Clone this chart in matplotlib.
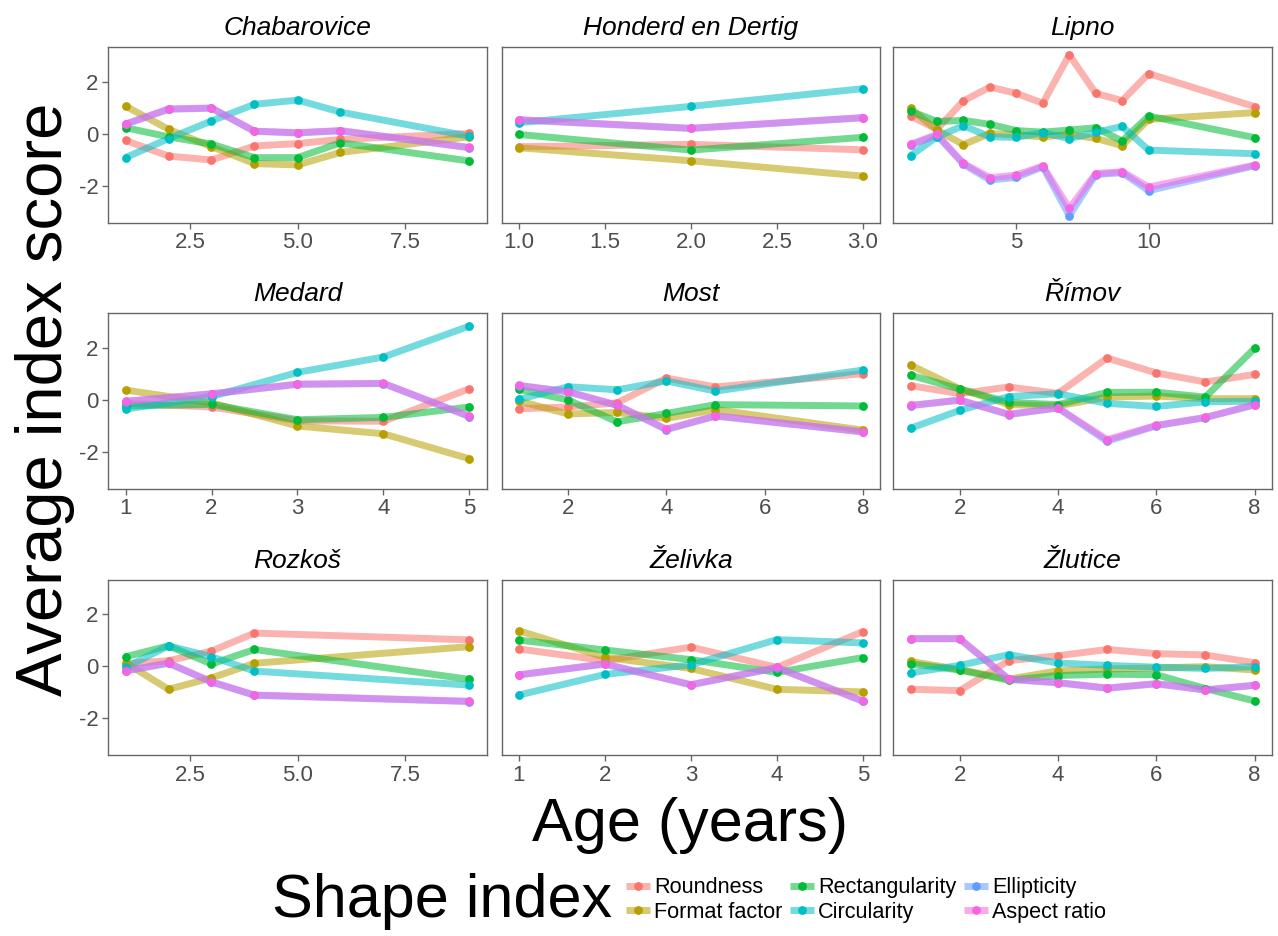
import matplotlib
matplotlib.use("Agg")
import matplotlib.pyplot as plt
from matplotlib.lines import Line2D

plt.rcParams['font.family'] = ['Liberation Sans', 'DejaVu Sans']

# ---------------- data ----------------
lakes = ["Chabarovice", "Honderd en Dertig", "Lipno",
         "Medard", "Most", "Římov",
         "Rozkoš", "Želivka", "Žlutice"]
indices = ["Roundness", "Format factor", "Rectangularity",
           "Circularity", "Ellipticity", "Aspect ratio"]
colors = ["#F8766D", "#B79F00", "#00BA38", "#00BFC4", "#619CFF", "#F564E3"]

ages = {
    "Chabarovice": [1, 2, 3, 4, 5, 6, 9],
    "Honderd en Dertig": [1, 2, 3],
    "Lipno": [1, 2, 3, 4, 5, 6, 7, 8, 9, 10, 14],
    "Medard": [1, 2, 3, 4, 5],
    "Most": [1, 2, 3, 4, 5, 8],
    "Římov": [1, 2, 3, 4, 5, 6, 7, 8],
    "Rozkoš": [1, 2, 3, 4, 9],
    "Želivka": [1, 2, 3, 4, 5],
    "Žlutice": [1, 2, 3, 4, 5, 6, 7, 8],
}

chabarovice = {
    "Roundness":      [-0.26, -0.86, -1.01, -0.47, -0.38, -0.22, 0.01],
    "Format factor":  [1.06, 0.17, -0.50, -1.15, -1.20, -0.72, -0.12],
    "Rectangularity": [0.23, -0.12, -0.40, -0.92, -0.92, -0.35, -1.05],
    "Circularity":    [-0.92, -0.19, 0.49, 1.13, 1.29, 0.83, -0.10],
    "Ellipticity":    [0.36, 0.94, 0.98, 0.09, 0.03, 0.11, -0.54],
    "Aspect ratio":   [0.37, 0.95, 0.99, 0.10, 0.04, 0.12, -0.53],
}
honderd = {
    "Roundness":      [-0.50, -0.41, -0.62],
    "Format factor":  [-0.54, -1.04, -1.63],
    "Rectangularity": [-0.03, -0.63, -0.14],
    "Circularity":    [0.42, 1.05, 1.73],
    "Ellipticity":    [0.53, 0.20, 0.61],
    "Aspect ratio":   [0.54, 0.21, 0.62],
}
lipno = {
    "Roundness":      [0.68, 0.17, 1.26, 1.79, 1.55, 1.17, 3.03, 1.55, 1.27, 2.31, 1.04],
    "Format factor":  [0.97, 0.14, -0.42, 0.01, -0.05, -0.12, -0.03, -0.18, -0.46, 0.55, 0.81],
    "Rectangularity": [0.87, 0.47, 0.51, 0.36, 0.12, 0.06, 0.14, 0.23, -0.28, 0.68, -0.15],
    "Circularity":    [-0.85, -0.12, 0.31, -0.12, -0.14, 0.04, -0.19, 0.05, 0.28, -0.63, -0.77],
    "Ellipticity":    [-0.44, -0.06, -1.17, -1.78, -1.68, -1.27, -3.15, -1.57, -1.50, -2.19, -1.23],
    "Aspect ratio":   [-0.41, -0.03, -1.14, -1.69, -1.59, -1.24, -2.87, -1.53, -1.46, -2.05, -1.21],
}
medard = {
    "Roundness":      [-0.14, -0.28, -0.81, -0.83, 0.42],
    "Format factor":  [0.37, -0.12, -1.01, -1.31, -2.27],
    "Rectangularity": [-0.24, -0.18, -0.77, -0.68, -0.28],
    "Circularity":    [-0.36, 0.12, 1.05, 1.64, 2.83],
    "Ellipticity":    [-0.07, 0.22, 0.59, 0.62, -0.65],
    "Aspect ratio":   [-0.06, 0.23, 0.60, 0.63, -0.64],
}
most = {
    "Roundness":      [-0.35, -0.28, -0.12, 0.83, 0.49, 1.00],
    "Format factor":  [-0.05, -0.55, -0.49, -0.72, -0.38, -1.17],
    "Rectangularity": [0.40, -0.01, -0.85, -0.53, -0.19, -0.24],
    "Circularity":    [0.01, 0.50, 0.38, 0.72, 0.33, 1.14],
    "Ellipticity":    [0.54, 0.30, -0.22, -1.15, -0.63, -1.24],
    "Aspect ratio":   [0.55, 0.31, -0.21, -1.13, -0.62, -1.23],
}
rimov = {
    "Roundness":      [0.54, 0.23, 0.49, 0.24, 1.60, 1.03, 0.68, 0.97],
    "Format factor":  [1.33, 0.42, -0.19, -0.24, 0.10, 0.14, 0.04, 0.04],
    "Rectangularity": [0.94, 0.41, -0.10, -0.19, 0.28, 0.29, 0.10, 1.97],
    "Circularity":    [-1.10, -0.41, 0.12, 0.23, -0.14, -0.26, -0.08, -0.06],
    "Ellipticity":    [-0.23, -0.02, -0.57, -0.32, -1.60, -1.00, -0.69, -0.20],
    "Aspect ratio":   [-0.22, -0.01, -0.56, -0.31, -1.53, -0.99, -0.68, -0.19],
}
rozkos = {
    "Roundness":      [0.10, 0.22, 0.59, 1.28, 1.02],
    "Format factor":  [0.14, -0.88, -0.44, 0.12, 0.76],
    "Rectangularity": [0.37, 0.79, 0.09, 0.65, -0.50],
    "Circularity":    [-0.04, 0.79, 0.37, -0.18, -0.72],
    "Ellipticity":    [-0.18, 0.12, -0.60, -1.11, -1.35],
    "Aspect ratio":   [-0.17, 0.13, -0.59, -1.10, -1.34],
}
zelivka = {
    "Roundness":      [0.67, 0.22, 0.74, -0.04, 1.34],
    "Format factor":  [1.37, 0.35, -0.08, -0.88, -0.98],
    "Rectangularity": [1.01, 0.63, 0.26, -0.23, 0.34],
    "Circularity":    [-1.10, -0.31, 0.06, 1.03, 0.90],
    "Ellipticity":    [-0.33, 0.09, -0.71, -0.05, -1.34],
    "Aspect ratio":   [-0.32, 0.10, -0.70, -0.04, -1.33],
}
zlutice = {
    "Roundness":      [-0.88, -0.93, 0.22, 0.41, 0.65, 0.49, 0.44, 0.14],
    "Format factor":  [0.19, -0.12, -0.49, -0.17, -0.10, -0.06, -0.01, -0.14],
    "Rectangularity": [0.10, -0.14, -0.53, -0.35, -0.30, -0.32, -0.85, -1.33],
    "Circularity":    [-0.25, 0.04, 0.45, 0.13, 0.04, -0.03, -0.08, -0.01],
    "Ellipticity":    [1.06, 1.06, -0.50, -0.63, -0.84, -0.67, -0.91, -0.73],
    "Aspect ratio":   [1.07, 1.07, -0.49, -0.62, -0.83, -0.66, -0.90, -0.72],
}
values = {
    "Chabarovice": chabarovice, "Honderd en Dertig": honderd, "Lipno": lipno,
    "Medard": medard, "Most": most, "Římov": rimov,
    "Rozkoš": rozkos, "Želivka": zelivka, "Žlutice": zlutice,
}

xticks = {
    "Chabarovice": ([2.5, 5.0, 7.5], ["2.5", "5.0", "7.5"]),
    "Honderd en Dertig": ([1.0, 1.5, 2.0, 2.5, 3.0], ["1.0", "1.5", "2.0", "2.5", "3.0"]),
    "Lipno": ([5, 10], ["5", "10"]),
    "Medard": ([1, 2, 3, 4, 5], ["1", "2", "3", "4", "5"]),
    "Most": ([2, 4, 6, 8], ["2", "4", "6", "8"]),
    "Římov": ([2, 4, 6, 8], ["2", "4", "6", "8"]),
    "Rozkoš": ([2.5, 5.0, 7.5], ["2.5", "5.0", "7.5"]),
    "Želivka": ([1, 2, 3, 4, 5], ["1", "2", "3", "4", "5"]),
    "Žlutice": ([2, 4, 6, 8], ["2", "4", "6", "8"]),
}
yticks = [-2, 0, 2]

# ---------------- figure ----------------
W, H = 1278, 936
fig = plt.figure(figsize=(W / 100, H / 100), dpi=100)

col_left = [108.3, 501.7, 893.3]
col_w = 378.4
row_top = [47.3, 313.3, 580.0]
row_h = 175.4

ylo, yhi = -3.42, 3.32
spine_col = "#666666"
tick_col = "#4D4D4D"

for i, lake in enumerate(lakes):
    r, c = divmod(i, 3)
    ax = fig.add_axes([col_left[c] / W, 1 - (row_top[r] + row_h) / H, col_w / W, row_h / H])
    x = ages[lake]
    for name, colr in zip(indices, colors):
        ax.plot(x, values[lake][name], color=colr, lw=5, alpha=0.55,
                solid_capstyle='butt', solid_joinstyle='round', zorder=2)
    for name, colr in zip(indices, colors):
        ax.plot(x, values[lake][name], color=colr, ls='', marker='o', ms=6.3,
                mew=0, zorder=3)
    xmin, xmax = min(x), max(x)
    pad = 0.05 * (xmax - xmin)
    ax.set_xlim(xmin - pad, xmax + pad)
    ax.set_ylim(ylo, yhi)
    tk, tl = xticks[lake]
    ax.set_xticks(tk)
    ax.set_xticklabels(tl)
    if c == 0:
        ax.set_yticks(yticks)
        ax.set_yticklabels([str(v) for v in yticks])
    else:
        ax.set_yticks([])
    ax.tick_params(axis='both', direction='out', length=4, width=1,
                   color=spine_col, labelcolor=tick_col, labelsize=16, pad=3)
    for s in ax.spines.values():
        s.set_color(spine_col)
        s.set_linewidth(1)
    ax.set_title(lake, fontsize=19, style='italic', pad=9)

fig.text(45 / W, 1 - 399 / H, "Average index score", rotation=90,
         ha='center', va='center', fontsize=47)
fig.text(690 / W, 1 - 825 / H, "Age (years)", ha='center', va='center', fontsize=44)

fig.text(272 / W, 1 - 902 / H, "Shape index", ha='left', va='center', fontsize=44)

handles = []
for colr in colors:
    ln = Line2D([], [], color=colr, lw=5, alpha=0.55, solid_capstyle='butt')
    pt = Line2D([], [], color=colr, marker='o', ls='', ms=6.3, mew=0)
    handles.append((ln, pt))
leg = fig.legend(handles, indices, ncol=3, loc='center left',
                 bbox_to_anchor=(626 / W, 1 - 900 / H), frameon=False,
                 fontsize=15.6, handlelength=1.1, handletextpad=0.2,
                 columnspacing=0.35, labelspacing=0.15, borderpad=0,
                 borderaxespad=0)

fig.savefig("out.png", dpi=100)
